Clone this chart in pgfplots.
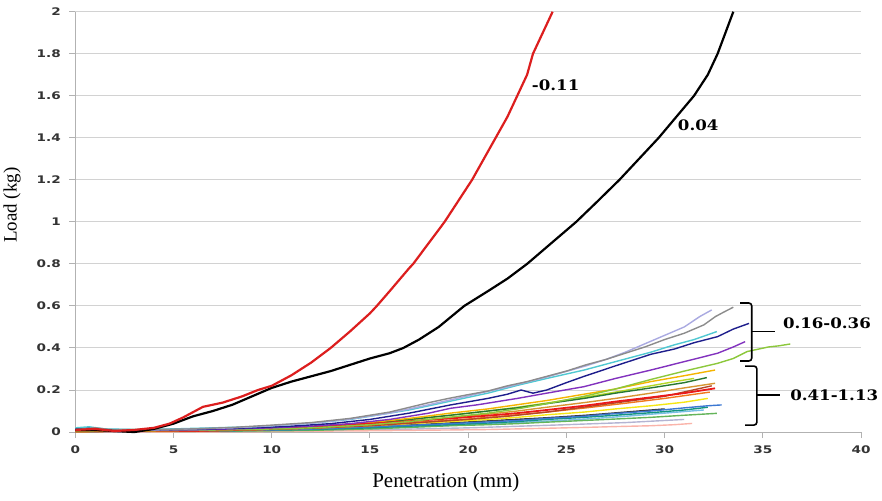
\documentclass[border=0pt]{standalone}
\usepackage{pgfplots}
\pgfplotsset{compat=1.18}
\usepackage{fontspec}
\setmainfont{Liberation Serif}
\newfontfamily\tickfont{DejaVu Sans}[FakeStretch=1.3]
\newfontfamily\annfont{DejaVu Serif}[FakeStretch=1.15]
\definecolor{cgray}{RGB}{140,140,140}
\definecolor{clav}{RGB}{170,170,225}
\definecolor{ccyan}{RGB}{80,200,210}
\definecolor{cnavy}{RGB}{30,30,140}
\definecolor{cpurp}{RGB}{130,50,190}
\definecolor{clgreen}{RGB}{140,200,60}
\definecolor{cory}{RGB}{245,180,0}
\definecolor{cdgreen}{RGB}{40,120,50}
\definecolor{ctan}{RGB}{215,150,50}
\definecolor{cred}{RGB}{235,25,25}
\definecolor{cbrown}{RGB}{180,70,40}
\definecolor{cyel}{RGB}{245,230,20}
\definecolor{cblue}{RGB}{60,120,210}
\definecolor{cteal}{RGB}{20,150,130}
\definecolor{cgreen}{RGB}{100,180,90}
\definecolor{cpink}{RGB}{250,180,170}
\definecolor{clime}{RGB}{180,215,40}
\definecolor{corange}{RGB}{240,120,30}
\definecolor{clblue}{RGB}{120,190,230}
\definecolor{cdark}{RGB}{60,60,60}
\definecolor{clgl}{RGB}{180,180,210}
\definecolor{mainred}{RGB}{220,30,30}
\begin{document}
\begin{tikzpicture}
\begin{axis}[
  name=ax, scale only axis, width=785.6bp, height=420.3bp,
  xmin=0, xmax=40, ymin=0, ymax=2, clip=false,
  xtick={0,5,10,15,20,25,30,35,40},
  ytick={0,0.2,0.4,0.6,0.8,1,1.2,1.4,1.6,1.8,2},
  axis x line*=bottom, axis y line*=left,
  axis line style={draw=gray!60, line width=1bp, -},
  ymajorgrids, grid style={gray!35, line width=1bp},
  tick align=outside, major tick length=6bp,
  tick style={gray!60, line width=1bp},
  /pgf/number format/assume math mode=true,
  ticklabel style={font=\tickfont\bfseries\fontsize{10.5}{12}\selectfont, text=black!80},
  xticklabel style={yshift=-4bp},
  yticklabel style={xshift=-5bp},
  xlabel={Penetration (mm)},
  xlabel style={font=\fontsize{21}{24}\selectfont, at={(axis description cs:0.4716,-0.121)}, anchor=center},
  ylabel={Load (kg)},
  ylabel style={font=\fontsize{19}{22}\selectfont, at={(axis description cs:-0.0805,0.54)}, anchor=center},
  every axis plot/.append style={no markers, line join=round, line width=1.4bp},
]
% lower group
\addplot[clgl] coordinates {(0,0) (5,0.002) (10,0.004) (15,0.01) (20,0.02) (25,0.035) (28,0.045) (31,0.06)};
\addplot[cdark] coordinates {(0,0) (4,0.005) (8,0.008) (12,0.015) (15,0.025) (18,0.038) (20,0.048) (22,0.058) (24,0.068) (26,0.08) (28,0.095) (30,0.11)};
\addplot[clblue] coordinates {(0,0.01) (4,0.005) (8,0.008) (12,0.01) (15,0.018) (18,0.028) (20,0.035) (22,0.043) (24,0.052) (26,0.062) (28,0.075) (30,0.09) (32,0.105)};
\addplot[cpink] coordinates {(0,0) (5,0) (9,0.002) (12,0.004) (15,0.006) (17,0.008) (19.1,0.01) (21,0.012) (22.5,0.015) (24,0.018) (25.9,0.022) (27.5,0.026) (29.3,0.03) (30.5,0.035) (31.4,0.041)};
\addplot[cgreen] coordinates {(0,0.005) (5,0.003) (9,0.005) (12,0.008) (15,0.015) (17,0.022) (19.1,0.03) (21,0.035) (22.5,0.04) (24,0.047) (25.9,0.055) (27.5,0.062) (29.3,0.07) (31,0.08) (32.66,0.089)};
\addplot[cteal] coordinates {(0,0.01) (3,0.005) (6,0.005) (9,0.008) (12,0.012) (15,0.02) (17,0.028) (19.1,0.035) (21,0.043) (22.5,0.05) (24,0.06) (25.9,0.07) (27.5,0.08) (29.3,0.092) (31,0.105) (32.2,0.118)};
\addplot[cblue] coordinates {(0,0) (3,0.003) (6,0.005) (9,0.008) (12,0.014) (15,0.025) (17,0.032) (19.1,0.04) (21,0.048) (22.5,0.055) (24,0.065) (25.9,0.075) (27.5,0.088) (29.3,0.1) (31,0.115) (32.2,0.125) (32.9,0.129)};
\addplot[cyel] coordinates {(0,0.01) (3,0.01) (6,0.01) (9,0.012) (12,0.018) (15,0.03) (17,0.04) (19.1,0.05) (21,0.06) (22.5,0.07) (24,0.082) (25.9,0.095) (27.5,0.11) (29.3,0.125) (31,0.142) (32.2,0.16)};
\addplot[corange] coordinates {(0,0.005) (4,0.008) (8,0.01) (12,0.02) (15,0.032) (18,0.05) (20,0.062) (22,0.078) (24,0.095) (26,0.115) (28,0.137) (30,0.16) (32.3,0.19)};
\addplot[cbrown] coordinates {(0,0) (3,0.005) (6,0.005) (9,0.01) (12,0.018) (15,0.03) (18,0.048) (20,0.06) (22,0.075) (24,0.095) (26,0.12) (28,0.145) (30,0.17) (32.4,0.22)};
\addplot[ctan] coordinates {(0,0) (3,0.005) (6,0.005) (9,0.01) (12,0.02) (15,0.035) (17,0.05) (19.1,0.07) (21,0.085) (22.5,0.1) (24,0.118) (25.9,0.14) (27.5,0.16) (29.3,0.185) (31,0.21) (32.57,0.232)};
\addplot[clime] coordinates {(0,0.005) (4,0.005) (8,0.01) (12,0.022) (15,0.04) (17,0.058) (19.1,0.08) (21,0.1) (22.5,0.118) (24,0.138) (25.9,0.165) (27.5,0.19) (29.3,0.22) (30.5,0.24) (31.5,0.255)};
\addplot[cdgreen] coordinates {(0,0.01) (3,0.012) (6,0.008) (9,0.012) (12,0.02) (15,0.04) (17,0.06) (19.1,0.08) (21,0.1) (22.5,0.115) (24,0.135) (25.9,0.16) (27.5,0.185) (29.3,0.21) (31,0.235) (32.15,0.259)};
\addplot[cory] coordinates {(0,0.005) (3,0.005) (6,0.01) (9,0.015) (12,0.025) (15,0.045) (17,0.065) (19.1,0.09) (21,0.11) (22.5,0.13) (24,0.15) (25.9,0.18) (27.5,0.205) (29.3,0.24) (31,0.268) (32.57,0.295)};
\addplot[cred, line width=1.8bp] coordinates {(0,0.005) (3,0.008) (6,0.005) (9,0.012) (12,0.025) (14,0.035) (16,0.045) (18,0.058) (19.1,0.065) (21,0.078) (22.5,0.09) (24,0.105) (25.9,0.125) (27.5,0.145) (29.3,0.165) (31,0.185) (32.57,0.208)};
% upper group
\addplot[clgreen] coordinates {(0,0.005) (3,0.008) (6,0.008) (9,0.012) (12,0.02) (15,0.035) (17,0.05) (19,0.07) (21,0.09) (22.5,0.11) (24,0.135) (25.9,0.17) (27.5,0.205) (29.3,0.25) (31,0.29) (32.7,0.327) (33.5,0.35) (34.2,0.383) (34.8,0.395) (35.3,0.405) (35.8,0.41) (36.4,0.419)};
\addplot[cpurp] coordinates {(0,0.01) (2,0.008) (4,0.01) (6,0.01) (8,0.015) (10,0.02) (12,0.028) (14,0.04) (16,0.06) (18,0.09) (19.1,0.113) (20.5,0.13) (22.5,0.16) (24,0.185) (25.9,0.216) (27.5,0.255) (29.3,0.295) (31,0.335) (32.7,0.375) (33.5,0.405) (34.1,0.43)};
\addplot[cnavy] coordinates {(0,0.015) (0.7,0.02) (1.5,0.01) (3,0.008) (5,0.012) (7,0.015) (9,0.02) (11,0.028) (13,0.04) (15,0.06) (17,0.09) (19.1,0.129) (21,0.16) (22,0.18) (22.7,0.2) (23.3,0.185) (24,0.2) (25,0.235) (25.9,0.265) (27.5,0.315) (29.3,0.37) (30.5,0.395) (31.5,0.425) (32.7,0.454) (33.5,0.49) (34.3,0.517)};
\addplot[ccyan] coordinates {(0,0.02) (0.7,0.025) (1.5,0.015) (3,0.012) (5,0.015) (7,0.02) (9,0.025) (10,0.03) (12,0.042) (14,0.06) (15,0.075) (17,0.105) (19,0.145) (21,0.185) (22.5,0.222) (24,0.255) (25.9,0.295) (27.5,0.335) (29.3,0.38) (30.5,0.415) (31.5,0.44) (32.66,0.478)};
\addplot[clav] coordinates {(0,0.01) (2,0.012) (4,0.01) (6,0.015) (8,0.02) (10,0.03) (12,0.042) (14,0.062) (16,0.09) (18,0.13) (20,0.172) (22,0.215) (24,0.262) (26,0.315) (27,0.345) (28,0.38) (29,0.42) (30,0.46) (31,0.5) (31.8,0.55) (32.4,0.581)};
\addplot[cgray] coordinates {(0,0.012) (1,0.02) (2,0.01) (4,0.012) (6,0.015) (8,0.022) (10,0.033) (12,0.045) (14,0.065) (16,0.095) (18,0.14) (19,0.16) (20,0.178) (21,0.195) (22,0.22) (23,0.24) (24,0.265) (25,0.29) (26,0.32) (27,0.345) (28,0.375) (29,0.405) (30,0.44) (31,0.47) (32,0.51) (32.6,0.55) (33,0.57) (33.5,0.594)};
% main curves
\addplot[black, line width=2.2bp] coordinates {(0,0.01) (1,0.01) (2,0.005) (3,0) (4,0.015) (5,0.04) (6,0.075) (7,0.1) (8,0.13) (9,0.17) (10,0.21) (11,0.24) (12,0.265) (13,0.29) (14,0.32) (15,0.35) (16,0.375) (16.7,0.4) (17.5,0.44) (18.5,0.5) (19.8,0.6) (21,0.67) (22,0.73) (23,0.8) (24,0.88) (25.5,1.0) (26.5,1.09) (27.7,1.2) (28.7,1.3) (29.7,1.4) (30.6,1.5) (31.5,1.6) (32.2,1.7) (32.7,1.8) (33.1,1.9) (33.5,2.0)};
\addplot[mainred, line width=2.2bp] coordinates {(0,0.01) (1,0.015) (2,0.005) (3,0.01) (4,0.02) (4.8,0.04) (5.5,0.07) (6.5,0.12) (7.5,0.14) (8.5,0.17) (9.3,0.2) (10,0.22) (11,0.27) (12,0.33) (13,0.4) (14,0.48) (15,0.565) (15.35,0.6) (16,0.67) (17,0.78) (17.2,0.8) (18,0.9) (18.8,1.0) (19.5,1.1) (20.2,1.2) (20.8,1.3) (21.4,1.4) (22,1.5) (22.5,1.6) (23,1.7) (23.3,1.8) (23.8,1.9) (24.3,2.0)};
% annotations
\draw[black, line width=1.6bp, rounded corners=3bp] (axis cs:33.85,0.614) -- (axis cs:34.44,0.614) -- (axis cs:34.44,0.338) -- (axis cs:33.85,0.338);
\draw[black, line width=1.6bp] (axis cs:34.44,0.4776) -- (axis cs:35.63,0.4776);
\draw[black, line width=1.6bp, rounded corners=3bp] (axis cs:34.1,0.314) -- (axis cs:34.7,0.314) -- (axis cs:34.7,0.033) -- (axis cs:34.1,0.033);
\draw[black, line width=1.6bp] (axis cs:34.7,0.176) -- (axis cs:35.88,0.176);
\node[anchor=west, inner sep=0pt, font=\annfont\bfseries\fontsize{14.5}{16}\selectfont] at (axis cs:36.02,0.5176) {0.16-0.36};
\node[anchor=west, inner sep=0pt, font=\annfont\bfseries\fontsize{14.5}{16}\selectfont] at (axis cs:36.39,0.176) {0.41-1.13};
\node[anchor=west, inner sep=0pt, font=\annfont\bfseries\fontsize{14.5}{16}\selectfont] at (axis cs:23.24,1.652) {-0.11};
\node[anchor=west, inner sep=0pt, font=\annfont\bfseries\fontsize{14.5}{16}\selectfont] at (axis cs:30.67,1.462) {0.04};
\end{axis}
\pgfresetboundingbox
\path ([shift={(-75.3bp,-68bp)}]ax.south west) rectangle ([shift={(21bp,11.7bp)}]ax.north east);
\end{tikzpicture}
\end{document}
